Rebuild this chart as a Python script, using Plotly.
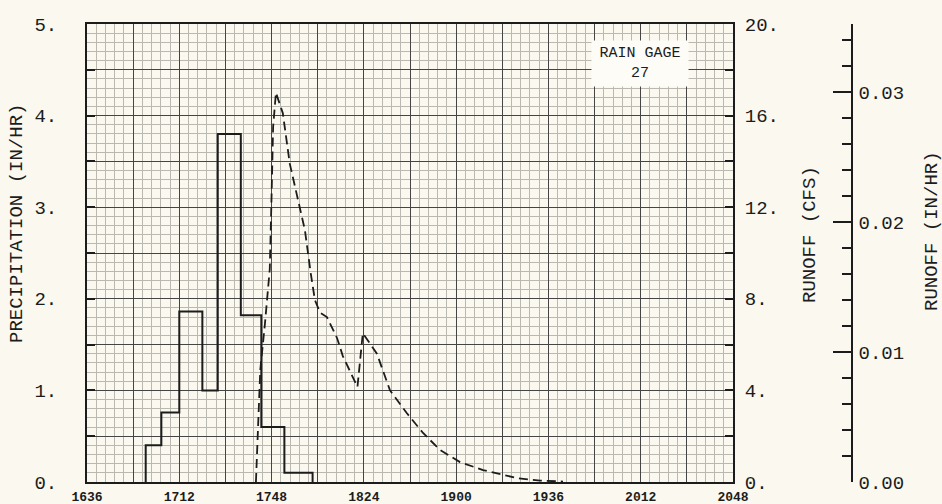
import plotly.graph_objects as go

# time axis: minutes after 16:36, labels are clock times (HHMM)
x_tick_labels = ["1636", "1712", "1748", "1824", "1900", "1936", "2012", "2048"]

# rain gage 27 breakpoint precipitation (in/hr), step held until next time
precip_t = [22.9, 22.9, 29.0, 36.0, 45.0, 51.0, 60.0, 68.0, 77.0, 88.0]
precip_v = [0.0, 0.40, 0.76, 1.86, 1.00, 3.80, 1.82, 0.60, 0.10, 0.0]

# runoff hydrograph (cfs)
runoff_t = [65.9, 67.6, 69.4, 71.3, 72.0, 72.6, 73.7, 76.4, 79.1, 80.5, 85.0,
            87.3, 88.9, 90.9, 93.6, 97.5, 99.8, 105.5, 106.5, 107.6, 113.1,
            118.2, 124.8, 131.1, 137.7, 145.5, 154.5, 167.8, 176.8, 185.7]
runoff_cfs = [0.0, 4.9, 6.9, 9.3, 12.5, 15.5, 17.0, 16.1, 13.9, 13.2, 11.0,
              9.1, 7.95, 7.4, 7.2, 6.3, 5.5, 4.15, 5.2, 6.5, 5.6,
              4.0, 3.0, 2.14, 1.4, 0.87, 0.52, 0.17, 0.06, 0.02]

precip_tick_labels = ["0.", "1.", "2.", "3.", "4.", "5."]
cfs_tick_labels = ["0.", "4.", "8.", "12.", "16.", "20."]

AREA_ACRES = 567.7  # cfs -> in/hr conversion for the third axis

# ── layout geometry (pixels) ────────────────────────────────────────────
W, H = 942, 504
L, R, T, B = 87, 60, 24, 22
PW = W - L - R
PH = H - T - B


def px(xp):
    return (xp - L) / PW


def py(yp):
    return (H - B - yp) / PH


def hhmm_to_min(s):
    return (int(s[:2]) * 60 + int(s[2:])) - (int(x_tick_labels[0][:2]) * 60 + int(x_tick_labels[0][2:]))


FONT = "Liberation Mono, DejaVu Sans Mono, monospace"
INK = "#1c1c1c"
BG = "#faf8ef"

# grid ticks every half label step, labels only on full steps
x_major = [hhmm_to_min(s) for s in x_tick_labels]
x_vals, x_text = [], []
for i, v in enumerate(x_major):
    x_vals.append(v)
    x_text.append(x_tick_labels[i])
    if i < len(x_major) - 1:
        x_vals.append(v + (x_major[i + 1] - v) / 2)
        x_text.append("")

y_vals = [i * 0.5 for i in range(11)]
y_text = [precip_tick_labels[i // 2] if i % 2 == 0 else "" for i in range(11)]
y2_vals = [i * 2 for i in range(11)]
y2_text = [cfs_tick_labels[i // 2] if i % 2 == 0 else "" for i in range(11)]

fig = go.Figure()

fig.add_trace(go.Scatter(
    x=precip_t, y=precip_v, mode="lines", line_shape="hv",
    line=dict(color=INK, width=2), yaxis="y", hoverinfo="skip",
))
fig.add_trace(go.Scatter(
    x=runoff_t, y=runoff_cfs, mode="lines",
    line=dict(color=INK, width=1.8, dash="9px,5px"), yaxis="y2",
))
# invisible copy so the in/hr axis gets drawn
fig.add_trace(go.Scatter(
    x=runoff_t, y=[v / AREA_ACRES for v in runoff_cfs], mode="lines",
    line=dict(width=0), opacity=0, yaxis="y3", hoverinfo="skip",
))

grid_minor = dict(showgrid=True, gridcolor="#b9b9b2", gridwidth=1, ticks="")

fig.update_layout(
    width=W, height=H,
    margin=dict(l=L, r=R, t=T, b=B),
    paper_bgcolor=BG, plot_bgcolor=BG,
    showlegend=False,
    font=dict(family=FONT, color=INK),
    xaxis=dict(
        domain=[0, px(733)], range=[x_major[0], x_major[-1]],
        tickmode="array", tickvals=x_vals, ticktext=x_text,
        tickfont=dict(size=13, weight="bold"),
        showgrid=True, gridcolor="#454545", gridwidth=1,
        minor=dict(dtick=3.6, tick0=0, **grid_minor),
        showline=True, mirror=True, linecolor=INK, linewidth=2,
        ticks="", ticklabelstandoff=1, zeroline=False, automargin=False,
    ),
    yaxis=dict(
        range=[0, 5], tickmode="array", tickvals=y_vals, ticktext=y_text,
        tickfont=dict(size=19),
        showgrid=True, gridcolor="#454545", gridwidth=1,
        minor=dict(dtick=0.1, tick0=0, **grid_minor),
        showline=True, linecolor=INK, linewidth=2,
        ticks="inside", ticklen=8, tickwidth=2, tickcolor=INK,
        ticklabelstandoff=24, zeroline=False, automargin=False,
    ),
    yaxis2=dict(
        range=[0, 20], overlaying="y", side="right",
        tickmode="array", tickvals=y2_vals, ticktext=y2_text,
        tickfont=dict(size=19), showgrid=False,
        showline=True, linecolor=INK, linewidth=2,
        ticks="inside", ticklen=8, tickwidth=2, tickcolor=INK,
        ticklabelstandoff=6, zeroline=False, automargin=False,
    ),
    yaxis3=dict(
        range=[0, 0.01 * PH / 130], overlaying="y", side="right",
        anchor="free", position=px(852),
        tick0=0, dtick=0.01, tickformat=".2f",
        tickfont=dict(size=19), showgrid=False,
        showline=True, linecolor=INK, linewidth=1.5,
        ticks="inside", ticklen=18, tickwidth=1.5, tickcolor=INK,
        minor=dict(dtick=0.002, tick0=0, ticks="inside", ticklen=9,
                   tickwidth=1.5, tickcolor=INK, showgrid=False),
        ticklabelstandoff=2, zeroline=False, automargin=False,
    ),
)

title_font = dict(family=FONT, size=19, color=INK)
for xp, yp, txt in [(17, 224, "PRECIPITATION (IN/HR)"),
                    (810, 235, "RUNOFF (CFS)"),
                    (932, 231, "RUNOFF (IN/HR)")]:
    fig.add_annotation(x=px(xp), y=py(yp), xref="paper", yref="paper",
                       xanchor="center", yanchor="middle",
                       text=txt, textangle=-90, showarrow=False, font=title_font)

fig.add_annotation(x=px(640), y=py(64), xref="paper", yref="paper",
                   xanchor="center", yanchor="middle",
                   text="RAIN GAGE<br>27", showarrow=False, align="center",
                   bgcolor="#fdfcf7", borderpad=4, width=88,
                   font=dict(family=FONT, size=15, color=INK))

# drop the default page margin so the figure sits at the window's corner
fig.write_html("out.html", config={"displayModeBar": False},
               post_script="document.body.style.margin='0';")
